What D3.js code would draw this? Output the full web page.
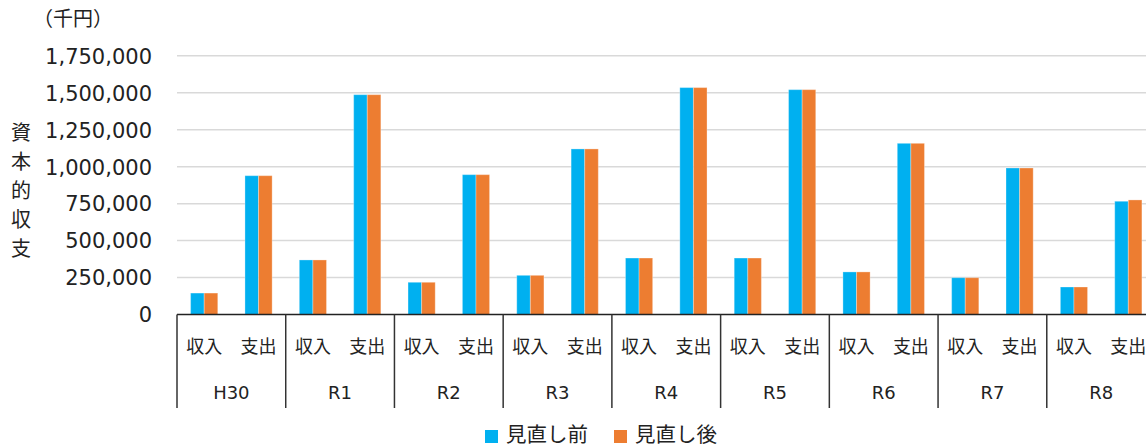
<!DOCTYPE html>
<html lang="ja">
<head>
<meta charset="utf-8">
<script src="https://cdn.jsdelivr.net/npm/d3@7/dist/d3.min.js"></script>
<style>
  html, body { margin: 0; padding: 0; background: #fff; }
  svg { display: block; font-family: "DejaVu Sans", "Noto Sans CJK JP", sans-serif; }
</style>
</head>
<body>
<svg id="chart" width="1146" height="447"></svg>
<script>
// Fiscal years and the two line items shown under each year
const years = ["H30", "R1", "R2", "R3", "R4", "R5", "R6", "R7", "R8"];
const items = ["収入", "支出"];
// Series names (legend order)
const seriesNames = ["見直し前", "見直し後"];
const seriesColors = ["#00B0F0", "#ED7D31"];
// Values in thousand yen, ordered year by year: 収入, 支出
const beforeValues = [145000, 939000, 369000, 1487000, 218000, 946000, 265000, 1120000,
                      382000, 1535000, 382000, 1521000, 288000, 1158000, 249000, 991000,
                      186000, 766000];
const afterValues  = [145000, 939000, 369000, 1487000, 218000, 946000, 265000, 1120000,
                      382000, 1535000, 382000, 1521000, 288000, 1158000, 249000, 991000,
                      186000, 775000];
// Value axis ticks
const yTicks = [0, 250000, 500000, 750000, 1000000, 1250000, 1500000, 1750000];
const unitLabel = "（千円）";
const axisTitle = "資本的収支";

const svg = d3.select("#chart");
const W = 1146;

const plotLeft = 177, plotRight = 1155.5, plotTop = 55.8, plotBottom = 314.5;

const rows = [];
years.forEach((yr, i) => items.forEach((it, j) => {
  const k = i * items.length + j;
  rows.push({ key: yr + "|" + it, year: yr, item: it, values: [beforeValues[k], afterValues[k]] });
}));

const x0 = d3.scaleBand().domain(rows.map(d => d.key)).range([plotLeft, plotRight])
  .paddingInner(0.5).paddingOuter(0.25);
const x1 = d3.scaleBand().domain(seriesNames).range([0, x0.bandwidth()]);
const y = d3.scaleLinear().domain([0, 1750000]).range([plotBottom, plotTop]);
const yearBand = d3.scaleBand().domain(years).range([plotLeft, plotRight]);

// Horizontal gridlines
svg.append("g").selectAll("line").data(yTicks.filter(t => t > 0)).join("line")
  .attr("x1", plotLeft).attr("x2", W)
  .attr("y1", d => y(d)).attr("y2", d => y(d))
  .attr("stroke", "#d9d9d9").attr("stroke-width", 1.5);

// Value axis labels
const yAxis = d3.axisLeft(y).tickValues(yTicks).tickSize(0).tickPadding(0)
  .tickFormat(d3.format(","));
svg.append("g").attr("transform", "translate(152,0)").call(yAxis)
  .call(g => g.select(".domain").remove())
  .call(g => g.selectAll("text")
    .attr("font-family", "\"DejaVu Sans\", \"Noto Sans CJK JP\", sans-serif")
    .attr("font-size", 21).attr("fill", "#222").attr("dy", "0.35em"));

// Bars
const groups = svg.append("g").selectAll("g").data(rows).join("g")
  .attr("transform", d => `translate(${x0(d.key)},0)`);
groups.selectAll("rect")
  .data(d => d.values.map((v, i) => ({ name: seriesNames[i], value: v, color: seriesColors[i] })))
  .join("rect")
  .attr("x", d => x1(d.name))
  .attr("y", d => y(d.value))
  .attr("width", x1.bandwidth())
  .attr("height", d => plotBottom - y(d.value))
  .attr("fill", d => d.color)
  .attr("stroke", "#ffffff").attr("stroke-opacity", 0.3).attr("stroke-width", 1);

// Category axis: baseline and year separators
svg.append("line").attr("x1", plotLeft).attr("x2", W)
  .attr("y1", plotBottom).attr("y2", plotBottom)
  .attr("stroke", "#222").attr("stroke-width", 1.5);
svg.append("g").selectAll("line").data(years).join("line")
  .attr("x1", d => yearBand(d)).attr("x2", d => yearBand(d))
  .attr("y1", plotBottom).attr("y2", 408)
  .attr("stroke", "#333").attr("stroke-width", 1.5);

// Item labels
svg.append("g").selectAll("text").data(rows).join("text")
  .attr("x", d => x0(d.key) + x0.bandwidth() / 2)
  .attr("y", 347).attr("dy", "0.35em")
  .attr("text-anchor", "middle").attr("font-size", 18).attr("fill", "#222")
  .text(d => d.item);

// Year labels
svg.append("g").selectAll("text").data(years).join("text")
  .attr("x", d => yearBand(d) + yearBand.bandwidth() / 2)
  .attr("y", 393).attr("dy", "0.35em")
  .attr("text-anchor", "middle").attr("font-size", 18).attr("fill", "#222")
  .text(d => d);

// Unit label
svg.append("text").attr("x", 33).attr("y", 19).attr("dy", "0.35em")
  .attr("font-size", 20).attr("fill", "#222").text(unitLabel);

// Vertical axis title, one character per line
svg.append("g").selectAll("text").data(Array.from(axisTitle)).join("text")
  .attr("x", 21).attr("y", (d, i) => 133 + i * 29).attr("dy", "0.35em")
  .attr("text-anchor", "middle").attr("font-size", 20).attr("fill", "#222")
  .text(d => d);

// Legend
const legendX = [485, 614];
const legend = svg.append("g").selectAll("g").data(seriesNames).join("g")
  .attr("transform", (d, i) => `translate(${legendX[i]},0)`);
legend.append("rect").attr("x", 0).attr("y", 430).attr("width", 13).attr("height", 13)
  .attr("fill", (d, i) => seriesColors[i]);
legend.append("text").attr("x", 21).attr("y", 435).attr("dy", "0.35em")
  .attr("font-size", 20.5).attr("fill", "#222").text(d => d);
</script>
</body>
</html>
